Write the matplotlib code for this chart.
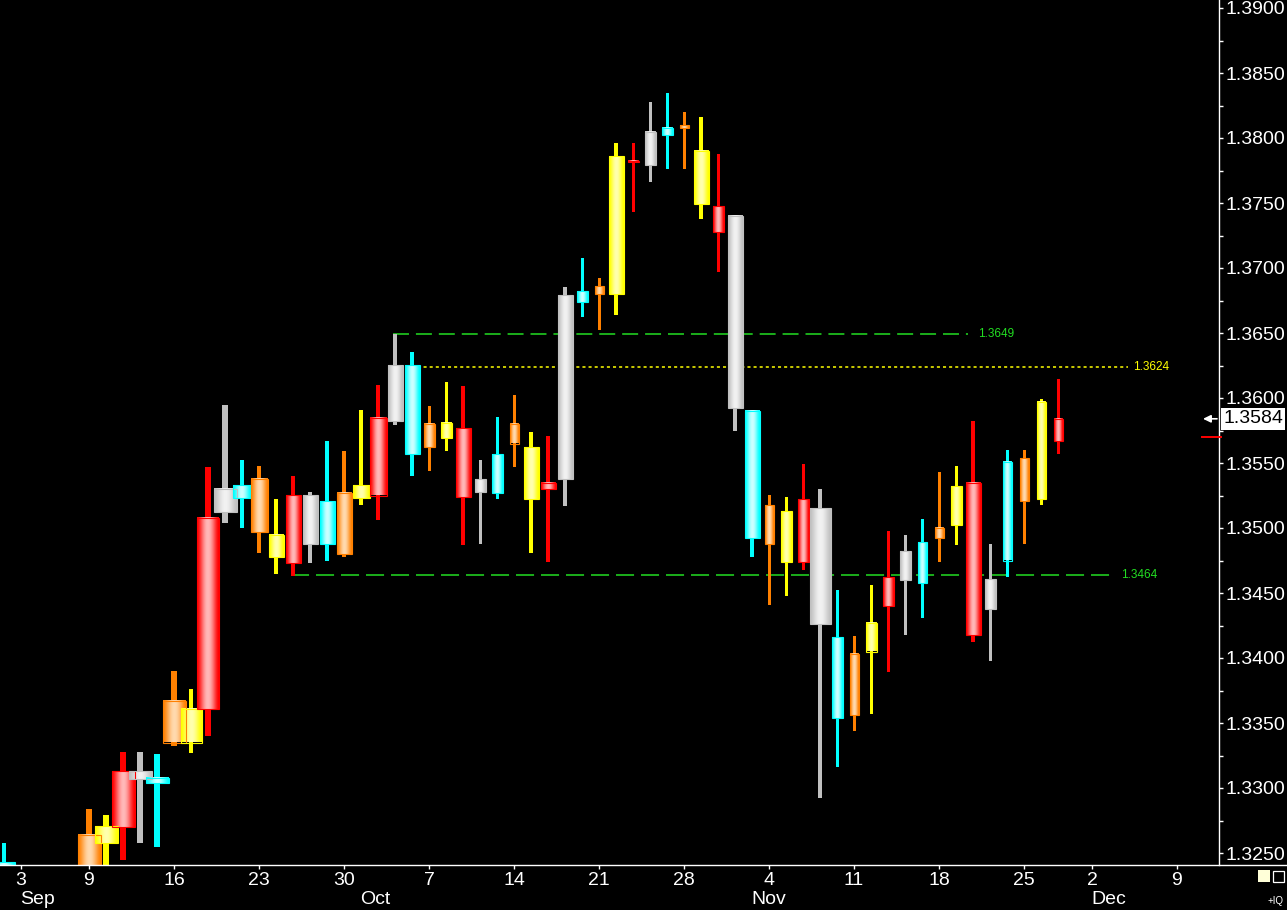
import numpy as np
import pandas as pd
import matplotlib
matplotlib.use('Agg')
import matplotlib.pyplot as plt
from matplotlib.patches import Rectangle
from matplotlib.lines import Line2D
from matplotlib.ticker import FixedLocator, MultipleLocator, FormatStrFormatter

# daily OHLC, EUR/USD style, Aug 30 .. Nov 27 (Sep 3-6 sit below the visible range)
dates = ['2013-08-30', '2013-09-09', '2013-09-10', '2013-09-11', '2013-09-12', '2013-09-13',
         '2013-09-16', '2013-09-17', '2013-09-18', '2013-09-19', '2013-09-20',
         '2013-09-23', '2013-09-24', '2013-09-25', '2013-09-26', '2013-09-27',
         '2013-09-30', '2013-10-01', '2013-10-02', '2013-10-03', '2013-10-04',
         '2013-10-07', '2013-10-08', '2013-10-09', '2013-10-10', '2013-10-11',
         '2013-10-14', '2013-10-15', '2013-10-16', '2013-10-17', '2013-10-18',
         '2013-10-21', '2013-10-22', '2013-10-23', '2013-10-24', '2013-10-25',
         '2013-10-28', '2013-10-29', '2013-10-30', '2013-10-31', '2013-11-01',
         '2013-11-04', '2013-11-05', '2013-11-06', '2013-11-07', '2013-11-08',
         '2013-11-11', '2013-11-12', '2013-11-13', '2013-11-14', '2013-11-15',
         '2013-11-18', '2013-11-19', '2013-11-20', '2013-11-21', '2013-11-22',
         '2013-11-25', '2013-11-26', '2013-11-27']
opens = [1.3243, 1.3190, 1.3258, 1.3270, 1.3313, 1.3308,
         1.3335, 1.3361, 1.3361, 1.3512, 1.3533,
         1.3538, 1.3495, 1.3473, 1.3525, 1.3488,
         1.3480, 1.3523, 1.3525, 1.3582, 1.3625,
         1.3562, 1.3581, 1.3577, 1.3528, 1.3527,
         1.3565, 1.3562, 1.3530, 1.3538, 1.3674,
         1.3680, 1.3680, 1.3782, 1.3779, 1.3802,
         1.3810, 1.3790, 1.3748, 1.3740, 1.3590,
         1.3488, 1.3513, 1.3474, 1.3515, 1.3416,
         1.3356, 1.3405, 1.3440, 1.3460, 1.3458,
         1.3492, 1.3502, 1.3535, 1.3438, 1.3475,
         1.3554, 1.3522, 1.3567]
highs = [1.3258, 1.3284, 1.3279, 1.3328, 1.3328, 1.3326,
         1.3390, 1.3376, 1.3547, 1.3595, 1.3552,
         1.3548, 1.3522, 1.3540, 1.3528, 1.3567,
         1.3559, 1.3591, 1.3610, 1.3649, 1.3635,
         1.3594, 1.3612, 1.3609, 1.3552, 1.3585,
         1.3602, 1.3574, 1.3571, 1.3685, 1.3708,
         1.3692, 1.3796, 1.3796, 1.3828, 1.3835,
         1.3820, 1.3816, 1.3788, 1.3741, 1.3591,
         1.3525, 1.3524, 1.3549, 1.3530, 1.3452,
         1.3417, 1.3456, 1.3498, 1.3495, 1.3507,
         1.3543, 1.3548, 1.3582, 1.3488, 1.3560,
         1.3560, 1.3599, 1.3615]
lows = [1.3200, 1.3175, 1.3230, 1.3245, 1.3258, 1.3255,
        1.3332, 1.3327, 1.3340, 1.3504, 1.3500,
        1.3481, 1.3465, 1.3463, 1.3473, 1.3475,
        1.3478, 1.3518, 1.3506, 1.3579, 1.3540,
        1.3544, 1.3559, 1.3487, 1.3488, 1.3522,
        1.3547, 1.3481, 1.3474, 1.3517, 1.3662,
        1.3652, 1.3664, 1.3743, 1.3766, 1.3776,
        1.3776, 1.3738, 1.3697, 1.3575, 1.3478,
        1.3441, 1.3448, 1.3468, 1.3292, 1.3316,
        1.3344, 1.3357, 1.3389, 1.3418, 1.3431,
        1.3474, 1.3487, 1.3412, 1.3398, 1.3462,
        1.3488, 1.3518, 1.3557]
closes = [1.3218, 1.3264, 1.3271, 1.3313, 1.3307, 1.3304,
          1.3367, 1.3335, 1.3508, 1.3530, 1.3523,
          1.3497, 1.3478, 1.3525, 1.3488, 1.3521,
          1.3527, 1.3533, 1.3585, 1.3625, 1.3557,
          1.3580, 1.3569, 1.3524, 1.3538, 1.3557,
          1.3580, 1.3522, 1.3535, 1.3679, 1.3682,
          1.3686, 1.3786, 1.3782, 1.3805, 1.3808,
          1.3808, 1.3749, 1.3728, 1.3592, 1.3492,
          1.3518, 1.3474, 1.3522, 1.3426, 1.3354,
          1.3403, 1.3427, 1.3462, 1.3482, 1.3489,
          1.3500, 1.3532, 1.3418, 1.3461, 1.3551,
          1.3521, 1.3597, 1.3584]
# relative volume, sets the candle width (equivolume style)
volume = [21, 23, 23, 23, 23, 23,
          23, 21, 22, 23, 18,
          17, 15, 15, 15, 15,
          15, 17, 17, 15, 15,
          11, 11, 15, 11, 11,
          9, 15, 15, 15, 11,
          9, 15, 11, 11, 11,
          9, 15, 11, 15, 15,
          9, 11, 11, 21, 11,
          9, 11, 11, 11, 9,
          9, 11, 15, 11, 9,
          9, 9, 9]

levels = [1.3649, 1.3624, 1.3464]
level_anchor = ['2013-10-03', '2013-10-03', '2013-09-25']
last_price = 1.3584
prev_mark = 1.3570

holidays = ['2013-09-02', '2013-11-28']
week_ticks = ['2013-09-03', '2013-09-09', '2013-09-16', '2013-09-23', '2013-09-30',
              '2013-10-07', '2013-10-14', '2013-10-21', '2013-10-28', '2013-11-04',
              '2013-11-11', '2013-11-18', '2013-11-25', '2013-12-02', '2013-12-09']
month_starts = ['2013-09-03', '2013-10-01', '2013-11-01', '2013-12-02']
month_names = ['Sep', 'Oct', 'Nov', 'Dec']

# weekday -> (edge colour, light centre colour)
DAY_COLORS = {
    0: ((255, 128, 0), (255, 218, 175)),
    1: ((255, 255, 0), (255, 255, 175)),
    2: ((255, 0, 0), (255, 185, 185)),
    3: ((192, 192, 192), (242, 242, 242)),
    4: ((0, 255, 255), (205, 255, 255)),
}

plt.rcParams['font.family'] = ['Liberation Sans', 'DejaVu Sans']
plt.rcParams['lines.scale_dashes'] = False

W, H = 1287, 910
PX = 17.0          # pixels per trading day
YPX = 13000.0      # pixels per price unit

cal = pd.bdate_range('2013-08-30', '2013-12-13')
cal = cal[~cal.isin(pd.to_datetime(holidays))]
origin = cal.get_loc(pd.Timestamp('2013-09-03'))


def idx(d):
    return cal.get_loc(pd.Timestamp(d)) - origin


def gradient(edge, light, n=48):
    u = (np.arange(n) + 0.5) / n
    t = np.sin(np.pi * u) ** 1.6
    e = np.array(edge) / 255.0
    li = np.array(light) / 255.0
    return (e[None, :] * (1 - t[:, None]) + li[None, :] * t[:, None])[None, :, :]


fig = plt.figure(figsize=(W / 100, H / 100), dpi=100, facecolor='black')
ax = fig.add_axes([0, 1 - 865 / H, 1219 / W, 865 / H])
ax.set_facecolor('black')

# horizontal levels
lvl_end = [55.7, 65.1, 64.35]
lvl_lab = [56.3, 65.4, 64.7]
lvl_col = ['#22DD22', '#FFFF00', '#22DD22']
lvl_style = [(0, (11.5, 5.0)), (0, (2.2, 2.2)), (0, (13.0, 5.0))]
for lv, anc, x1, xl, col, ls in zip(levels, level_anchor, lvl_end, lvl_lab, lvl_col, lvl_style):
    ax.hlines(lv, idx(anc) - 0.1, x1, colors=col, linestyles=ls, linewidth=1.1, zorder=1)
    ax.text(xl, lv, f'{lv:.4f}', color=col, fontsize=8.5, va='center', ha='left', zorder=1)

# candles
for d, o, hi, lo, c, v in zip(dates, opens, highs, lows, closes, volume):
    x = idx(d)
    edge, light = DAY_COLORS[pd.Timestamp(d).weekday()]
    ec = tuple(np.array(edge) / 255.0)
    w = v / PX
    ww = max(3.0, 0.23 * v) / PX
    ax.add_patch(Rectangle((x - ww / 2, lo), ww, hi - lo, facecolor=ec,
                           edgecolor='none', zorder=3))
    b0, b1 = min(o, c), max(o, c)
    if b1 - b0 < 1.3 / YPX:
        mid = (b0 + b1) / 2
        b0, b1 = mid - 0.65 / YPX, mid + 0.65 / YPX
    ax.imshow(gradient(edge, light), extent=(x - w / 2, x + w / 2, b0, b1),
              aspect='auto', interpolation='bilinear', zorder=4)
    ax.add_patch(Rectangle((x - w / 2, b0), w, b1 - b0, fill=False,
                           edgecolor=ec, linewidth=0.8, zorder=5))

ax.set_xlim(-21 / PX, (1219 - 21) / PX)
ax.set_ylim(1.39 - 857 / YPX, 1.39 + 8 / YPX)
ax.set_aspect('auto')

# axes styling
for s in ['top', 'left', 'bottom']:
    ax.spines[s].set_visible(False)
ax.spines['right'].set_color('white')
ax.spines['right'].set_linewidth(1.0)

ax.yaxis.tick_right()
ax.yaxis.set_major_locator(MultipleLocator(0.005))
ax.yaxis.set_minor_locator(MultipleLocator(0.0025))
ax.yaxis.set_major_formatter(FormatStrFormatter('%.4f'))
ax.tick_params(axis='y', which='both', colors='white', direction='out',
               length=3, width=1, labelsize=14, pad=2)

ax.xaxis.set_major_locator(FixedLocator([idx(d) for d in week_ticks]))
ax.set_xticklabels([str(pd.Timestamp(d).day) for d in week_ticks])
ax.tick_params(axis='x', colors='white', direction='out', length=3, width=1,
               labelsize=14, pad=2)

for d, m in zip(month_starts, month_names):
    ax.annotate(m, xy=(idx(d), 0), xycoords=('data', 'axes fraction'),
                xytext=(-1, -26), textcoords='offset pixels', color='white',
                fontsize=14, ha='left', va='top', annotation_clip=False)

# full-width bottom axis line
fig.add_artist(Line2D([0, 1], [1 - 865 / H, 1 - 865 / H], color='white',
                      linewidth=1.0, transform=fig.transFigure))

# last price marker
ax.text(1.0035, last_price, f'{last_price:.4f}', transform=ax.get_yaxis_transform(),
        color='black', fontsize=14, va='center', ha='left', zorder=10,
        bbox=dict(boxstyle='square,pad=0.12', facecolor='white', edgecolor='none'),
        clip_on=False)
ax.annotate('', xy=(1203 / 1219, last_price), xycoords=('axes fraction', 'data'),
            xytext=(1217 / 1219, last_price), textcoords=('axes fraction', 'data'),
            arrowprops=dict(arrowstyle='-|>,head_length=0.45,head_width=0.22',
                            color='white', lw=1.2, shrinkA=0, shrinkB=0),
            annotation_clip=False)
ax.plot([1202 / 1219, 1221 / 1219], [prev_mark, prev_mark], color='#FF0000',
        linewidth=1.4, transform=ax.get_yaxis_transform(), clip_on=False, zorder=10)

# corner widgets
fig.add_artist(Rectangle((1258 / W, 1 - 882 / H), 12 / W, 12 / H, facecolor='#FFFFD8',
                         edgecolor='none', transform=fig.transFigure))
fig.add_artist(Rectangle((1273 / W, 1 - 882 / H), 11 / W, 11 / H, facecolor='none',
                         edgecolor='white', linewidth=0.9, transform=fig.transFigure))
fig.text(1284 / W, 1 - 901 / H, '+IQ', color='white', fontsize=7, ha='right', va='center')

fig.savefig('out.png', dpi=100, facecolor='black')
